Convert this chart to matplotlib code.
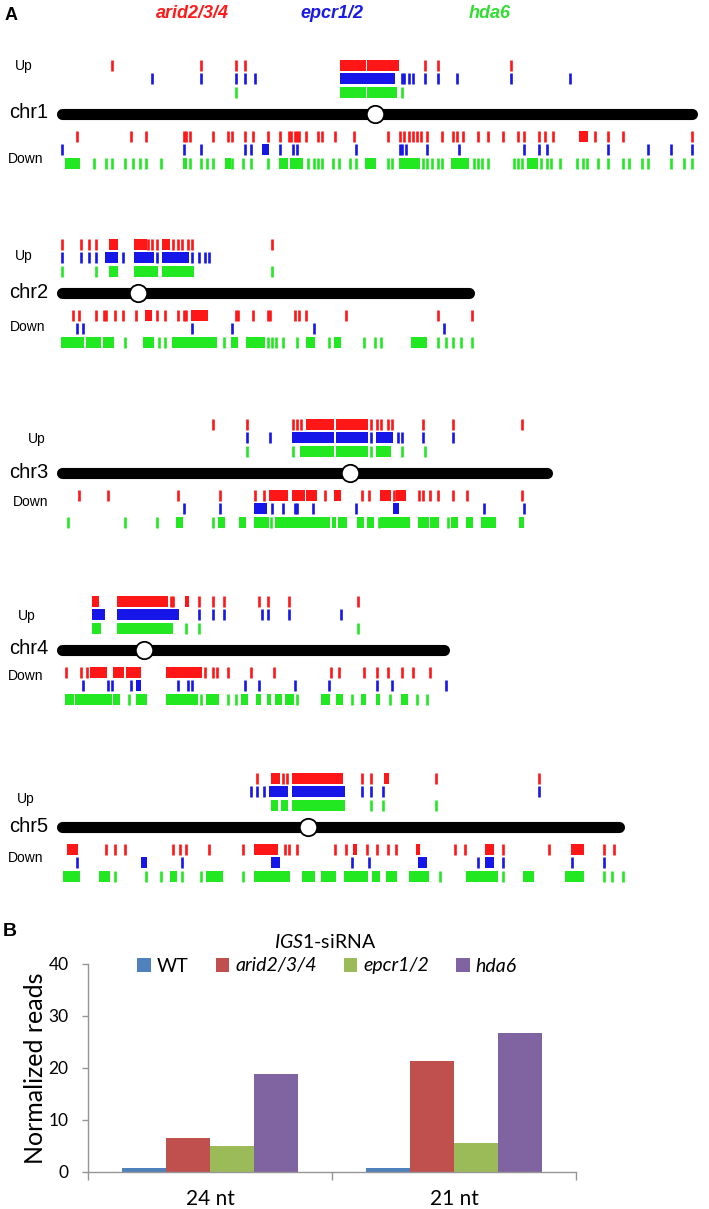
import numpy as np
import matplotlib
matplotlib.use("Agg")
import matplotlib.pyplot as plt

plt.rcParams['mathtext.fontset'] = 'custom'
plt.rcParams['mathtext.rm'] = 'Lato'
plt.rcParams['mathtext.it'] = 'Lato:italic'

# ---------------- Panel A data (positions in Mb) ----------------
chrom_names = ['chr1', 'chr2', 'chr3', 'chr4', 'chr5']
chrom_lengths = [30.0, 19.4, 23.1, 18.2, 26.5]
centromeres = [14.9, 3.6, 13.7, 3.9, 11.7]
genotypes_A = ['arid2/3/4', 'epcr1/2', 'hda6']

# single loci are numbers, dense runs of loci are (start, end) tuples
chr1_up_red = [2.4, 6.6, 8.3, 8.7, (13.3, 14.4), (14.6, 15.2), (15.3, 16.0), 17.3, 17.9, 21.4]
chr1_up_blue = [4.3, 6.6, 8.3, 8.7, 9.2, (13.3, 15.8), 16.2, 16.3, 16.5, 16.7, 17.3, 17.9, 18.8, 21.4, 24.2]
chr1_up_green = [8.3, (13.3, 14.4), (14.6, 15.9), 16.2]
chr1_down_red = [0.7, 3.3, 4.0, 5.8, 5.9, 6.1, 7.2, 7.9, 8.1, 8.7, 9.1, 9.8, 10.4, 10.8, 10.9, 11.1, 11.2,
                 11.3, 11.6, 12.2, 12.4, 13.0, 13.9, 15.5, 16.1, 16.3, 16.5, 16.7, 16.9, 17.1, 17.4, 18.1,
                 18.6, 18.8, 19.1, 19.8, 20.3, 21.0, 21.7, 22.0, 22.7, 23.0, 23.4, (24.7, 25.0), 25.4, 26.0,
                 26.7, 30.0]
chr1_down_blue = [0.0, 5.8, 6.6, 8.7, 9.0, (9.6, 9.8), 10.4, 11.0, 11.2, 14.0, 16.1, 16.2, 16.4, 17.4, 18.9,
                  22.0, 22.7, 23.1, 26.0, 27.9, 29.0, 30.0]
chr1_down_green = [(0.2, 0.8), 1.5, 2.1, 2.4, 3.0, 3.4, 3.7, 4.0, 4.7, (5.8, 5.9), 6.1, 6.6, 6.9, 7.2,
                   (7.8, 8.0), 8.1, 8.6, 9.0, 9.8, (10.4, 10.7), (10.9, 11.4), 11.7, 12.0, 12.2, 12.4, 12.9,
                   13.2, 13.7, 14.0, (14.5, 14.9), 15.5, 15.7, (16.1, 17.0), 17.2, 17.4, 17.6, 17.9, 18.1,
                   (18.6, 19.3), 19.6, 19.8, 20.0, 20.3, 21.5, 21.7, 21.9, (22.2, 22.6), 22.8, 23.1, 23.3,
                   23.7, 24.5, 24.8, 25.0, 25.5, 26.0, 26.7, 27.0, 27.6, 27.9, 29.0, 29.6, 30.0]

chr2_up_red = [0.0, 0.9, 1.3, 1.6, (2.3, 2.6), (3.5, 4.0), 4.1, 4.3, 4.5, (4.8, 5.1), 5.3, 5.5, 5.7, 6.0, 6.2, 10.0]
chr2_up_blue = [0.0, 0.9, 1.3, 1.6, (2.1, 2.6), 2.9, (3.5, 4.3), 4.5, (4.8, 6.0), 6.2, 6.5, 6.8, 7.0]
chr2_up_green = [0.0, 1.6, (2.3, 2.6), (3.5, 4.5), (4.8, 6.2), 10.0]
chr2_down_red = [0.5, 0.8, 1.6, 2.0, 2.1, 2.5, 2.9, 3.5, (4.0, 4.2), 4.5, 4.9, 5.5, 5.8, 5.9, (6.2, 6.9),
                 8.3, 8.4, 9.1, 9.8, 9.9, 11.1, 11.3, 11.6, 13.5, 17.9, 19.5]
chr2_down_blue = [0.7, 1.0, 6.2, 8.1, 12.0, 18.2]
chr2_down_green = [(0.0, 1.0), (1.2, 1.8), (2.0, 2.4), 3.0, (3.9, 4.3), 4.6, 4.9, (5.3, 7.3), 7.7, (8.1, 8.3),
                   (8.8, 9.6), 9.8, 10.0, 10.2, 10.5, 11.2, (11.7, 12.0), 12.7, (13.0, 13.2), 14.4, 14.9,
                   15.2, (16.7, 17.3), 17.9, 18.3, 18.6, 19.0, 19.5]

chr3_up_red = [7.2, 8.8, 11.0, 11.2, 11.4, (11.7, 12.9), (13.1, 14.5), 14.7, 15.0, 15.2, 15.5, 15.7, 17.2, 18.6, 21.9]
chr3_up_blue = [8.8, 9.9, (11.0, 11.6), (11.7, 12.9), (13.1, 14.5), 14.7, (15.0, 15.7), 16.0, 16.2, 17.2, 18.6]
chr3_up_green = [8.8, 11.0, (11.4, 12.9), (13.1, 14.5), 14.7, (15.0, 15.6), 16.2, 17.3]
chr3_down_red = [0.8, 2.2, 5.5, 7.5, 9.2, 9.6, (9.9, 10.7), (11.0, 11.5), (11.7, 12.1), 12.5, (13.0, 13.2),
                 14.3, 14.6, (15.2, 15.6), 15.8, (15.95, 16.3), 17.0, 17.2, 17.5, 17.9, 18.6, 19.3, 21.9]
chr3_down_blue = [5.8, 7.5, (9.2, 9.7), 10.0, 10.5, 11.1, 11.2, 11.95, 14.0, (15.8, 16.0), 20.1, 22.0]
chr3_down_green = [0.3, 3.0, 4.5, (5.5, 5.7), 7.2, (7.5, 7.7), (8.5, 8.7), (9.2, 9.8), 9.95, (10.2, 10.9),
                   (11.0, 12.7), (12.9, 13.0), (13.2, 13.5), (14.1, 14.3), (14.6, 14.8), 15.1, (15.2, 16.5),
                   (17.0, 17.4), (17.6, 17.9), 18.4, (18.6, 18.8), (19.3, 19.5), (20.0, 20.6), (21.8, 21.95)]

chr4_up_red = [(1.5, 1.7), (2.7, 5.0), 5.2, 5.3, (5.9, 6.0), 6.5, 7.2, 7.7, 9.4, 9.8, 10.8, 14.1]
chr4_up_blue = [(1.5, 2.0), (2.7, 5.5), 6.5, 7.2, 7.7, 9.5, 9.8, 10.8, 13.3]
chr4_up_green = [(1.5, 1.8), (2.7, 5.2), 5.9, 6.5, 14.1]
chr4_down_red = [0.2, 0.9, 1.2, (1.4, 2.1), (2.5, 2.9), (3.1, 3.7), (5.0, 6.6), 6.8, 7.2, 7.4, 7.9, 9.0,
                 10.1, 12.8, 13.2, 14.4, 15.0, 15.5, 16.2, 16.7, 17.5]
chr4_down_blue = [1.0, 2.2, 2.4, 3.3, (3.6, 3.7), 5.5, 6.0, 6.2, 8.7, 9.4, 11.1, 12.7, 15.0, 15.7, 18.3]
chr4_down_green = [(0.2, 0.5), (0.7, 2.3), (2.5, 2.7), 3.2, (3.6, 4.0), (5.0, 6.4), 6.6, (6.9, 7.4), 7.9,
                   8.3, (8.6, 8.8), (9.3, 9.4), (9.8, 9.9), (10.2, 10.4), (10.7, 11.0), 11.2, (12.4, 12.7),
                   (13.1, 13.3), 13.8, (14.3, 14.4), (15.0, 15.1), 15.6, (16.2, 16.4), 16.9, 17.4]

chr5_up_red = [9.3, (10.0, 10.3), 10.5, 10.7, (11.0, 13.3), 14.3, 14.7, (15.4, 15.5), 17.8, 22.7]
chr5_up_blue = [9.0, 9.3, 9.6, (9.9, 10.7), (11.0, 13.4), 14.3, 14.7, 15.3, 22.7]
chr5_up_green = [(10.0, 10.2), (10.5, 10.7), (11.0, 13.4), 14.7, 15.3, 17.8]
chr5_down_red = [(0.3, 0.7), 2.1, 2.5, 3.0, 5.3, 5.6, 5.9, 7.0, 8.6, (9.2, 10.2), 10.6, 10.8, 11.2, 13.0,
                 13.5, (13.9, 14.0), 14.5, 15.0, 15.5, 15.9, (16.9, 17.0), 18.7, 19.2, (20.2, 20.5), 21.0,
                 23.2, (24.3, 24.8), 25.8, 26.3]
chr5_down_blue = [0.7, (3.8, 4.0), 5.7, (10.0, 10.3), 13.8, 14.6, (17.0, 17.3), 19.8, (20.2, 20.5), 21.0, 24.3, 25.8]
chr5_down_green = [(0.1, 0.8), (1.8, 2.2), 2.5, 4.0, 4.7, (5.2, 5.4), 5.7, 6.6, (6.9, 7.6), 8.6, (9.2, 10.8),
                   (11.5, 12.0), (12.4, 13.0), (13.5, 14.5), (14.8, 15.1), (15.5, 15.9), (16.6, 17.4), 18.0,
                   (19.3, 20.7), 21.0, (22.0, 22.4), (24.0, 24.8), 25.8, 26.2, 26.7]

up_tracks = [[chr1_up_red, chr1_up_blue, chr1_up_green],
             [chr2_up_red, chr2_up_blue, chr2_up_green],
             [chr3_up_red, chr3_up_blue, chr3_up_green],
             [chr4_up_red, chr4_up_blue, chr4_up_green],
             [chr5_up_red, chr5_up_blue, chr5_up_green]]
down_tracks = [[chr1_down_red, chr1_down_blue, chr1_down_green],
               [chr2_down_red, chr2_down_blue, chr2_down_green],
               [chr3_down_red, chr3_down_blue, chr3_down_green],
               [chr4_down_red, chr4_down_blue, chr4_down_green],
               [chr5_down_red, chr5_down_blue, chr5_down_green]]

# ---------------- Panel B data ----------------
categories_B = ['24 nt', '21 nt']
genotypes_B = ['WT', 'arid2/3/4', 'epcr1/2', 'hda6']
reads_WT = [0.8, 0.8]
reads_arid = [6.6, 21.4]
reads_epcr = [5.0, 5.5]
reads_hda6 = [18.9, 26.8]

# ---------------- style ----------------
W, H = 709, 1209
track_colors = ['#ff1616', '#1616e8', '#22e822']
bar_colors = ['#4f81bd', '#c0504d', '#9bbb59', '#8064a2']
PX_PER_MB = 21.0
X0 = 62.0
bar_y = [114, 293, 473, 650, 827]
up_offsets = [-49, -36, -22]
down_offsets = [22, 35, 49]
up_label_y = [66, 256, 439, 616, 799]
up_label_x = [15, 15, 28, 18, 17]
down_label_y = [159, 327, 502, 676, 858]
down_label_x = [8, 10, 13, 8, 8]
TICK_H = 11
TICK_LW = 1.9
HALF = 1.3 / PX_PER_MB
armfont = ['Liberation Sans', 'DejaVu Sans']

fig = plt.figure(figsize=(W / 100, H / 100), dpi=100)

def fx(px):
    return px / W

def fy(py):
    return 1 - py / H

axA = fig.add_axes([0, 0, 1, 1])
axA.set_xlim(-X0 / PX_PER_MB, (W - X0) / PX_PER_MB)
axA.set_ylim(H, 0)
axA.axis('off')


def draw_track(ax, items, y, color):
    singles = [v for v in items if not isinstance(v, tuple)]
    spans = [(v[0] - HALF, (v[1] - v[0]) + 2 * HALF) for v in items if isinstance(v, tuple)]
    if singles:
        ax.vlines(singles, y - TICK_H / 2, y + TICK_H / 2, colors=color, linewidth=TICK_LW)
    if spans:
        ax.broken_barh(spans, (y - TICK_H / 2, TICK_H), facecolors=color, edgecolor='none')


for i, name in enumerate(chrom_names):
    yb = bar_y[i]
    for tr, off, col in zip(up_tracks[i], up_offsets, track_colors):
        draw_track(axA, tr, yb + off, col)
    for tr, off, col in zip(down_tracks[i], down_offsets, track_colors):
        draw_track(axA, tr, yb + off, col)
    axA.plot([0, chrom_lengths[i]], [yb, yb], color='black', lw=8, solid_capstyle='round', zorder=3)
    axA.plot([centromeres[i]], [yb], 'o', ms=12.5, mfc='white', mec='black', mew=1.3, zorder=4)
    fig.text(fx(9), fy(yb - 1), name, fontsize=14.5, family=armfont, ha='left', va='center')
    fig.text(fx(up_label_x[i]), fy(up_label_y[i]), 'Up', fontsize=10, family=armfont, ha='left', va='center')
    fig.text(fx(down_label_x[i]), fy(down_label_y[i]), 'Down', fontsize=10, family=armfont, ha='left', va='center')

fig.text(fx(5), fy(15), 'A', fontsize=13, fontweight='bold', family=armfont, ha='left', va='center')
header_x = [192, 332, 490]
header_colors = ['#ff1a1a', '#1a1ae6', '#30dd30']
for gx, gname, gc in zip(header_x, genotypes_A, header_colors):
    fig.text(fx(gx), fy(13), gname, fontsize=13, fontweight='bold', fontstyle='italic',
             family=armfont, color=gc, ha='center', va='center')

# ---------------- Panel B ----------------
fig.text(fx(3), fy(932), 'B', fontsize=14, fontweight='bold', family=armfont, ha='left', va='center')

axB = fig.add_axes([fx(88), fy(1172), (576 - 88) / W, (1172 - 964) / H])
x = np.arange(len(categories_B))
bw = 0.18
series = [reads_WT, reads_arid, reads_epcr, reads_hda6]
for k, (vals, col, lab) in enumerate(zip(series, bar_colors, genotypes_B)):
    axB.bar(x + (k - 1.5) * bw, vals, bw, color=col, label=lab, zorder=2)

axB.set_xlim(-0.5, 1.5)
axB.set_ylim(0, 40)
axB.set_yticks([0, 10, 20, 30, 40])
for s in ['top', 'right']:
    axB.spines[s].set_visible(False)
for s in ['left', 'bottom']:
    axB.spines[s].set_color('#969696')
    axB.spines[s].set_linewidth(1.0)
axB.tick_params(axis='y', direction='out', length=4, width=1, color='#969696', pad=10,
                labelsize=12.5, labelfontfamily='Lato')
axB.set_xticks(x)
axB.set_xticklabels(categories_B, fontsize=15, family='Lato')
axB.tick_params(axis='x', which='major', length=0, pad=12)
axB.set_xticks([-0.5, 0.5, 1.5], minor=True)
axB.tick_params(axis='x', which='minor', direction='out', length=6, width=1, color='#969696')
axB.set_ylabel('Normalized reads', fontsize=18, family='Lato')
axB.yaxis.set_label_coords(-0.084, 0.5)

leg = axB.legend(ncol=4, loc='center', bbox_to_anchor=(fx(327), fy(966)), bbox_transform=fig.transFigure,
                 frameon=False, prop={'family': 'Lato', 'size': 14}, handlelength=0.7, handleheight=0.7,
                 handletextpad=0.3, columnspacing=1.4, borderpad=0, borderaxespad=0)
for t in leg.get_texts()[1:]:
    t.set_fontstyle('italic')

fig.text(fx(325), fy(942), r'$\mathit{IGS1}$-siRNA', fontsize=14, family='Lato', ha='center', va='center')

fig.savefig('out.png', dpi=100)
